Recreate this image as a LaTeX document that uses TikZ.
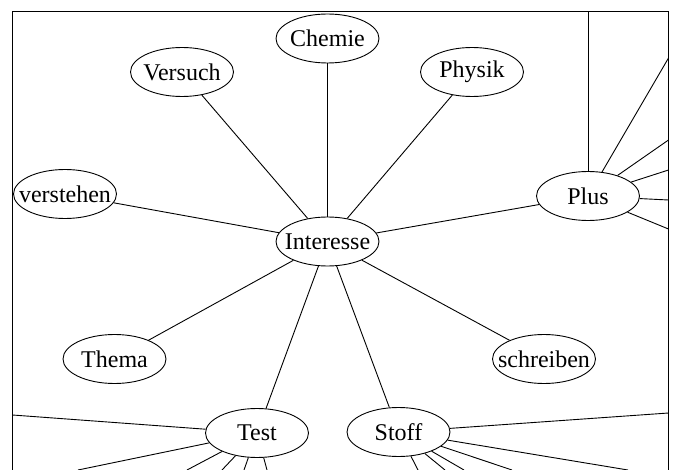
\documentclass[tikz,border=0pt]{standalone}
\usepackage{fontspec}
\setmainfont{Liberation Serif}
\usetikzlibrary{shapes.geometric}
\begin{document}
\begin{tikzpicture}[x=1pt,y=-1pt,
  font=\fontsize{24}{28}\selectfont,
  bubble/.style={draw, ellipse, inner sep=0pt, minimum width=103pt,
                 minimum height=49pt, line width=0.9pt},
  link/.style={line width=0.9pt},
  frame/.style={line width=1pt}]
\useasboundingbox (0,0) rectangle (674,470);

% ellipses: fixed size, word set as a centred label
\node[bubble, label=center:Interesse] (interesse) at (327.5,241.5) {};
\node[bubble, label=center:Chemie]    (chemie)    at (327.5,38.5)  {};
\node[bubble, label=center:Versuch]   (versuch)   at (182,72)      {};
\node[bubble, label=center:Physik]    (physik)    at (472,72)      {};
\node[bubble, label=center:verstehen] (verstehen) at (65,194)      {};
\node[bubble, label=center:Plus]      (plus)      at (588,196)     {};
\node[bubble, label=center:Thema]     (thema)     at (114.5,359)   {};
\node[bubble, label=center:schreiben] (schreiben) at (544,359)     {};
\node[bubble, label=center:Test]      (test)      at (257,433)     {};
\node[bubble, label=center:Stoff]     (stoff)     at (398.5,432)   {};

% loose ends of links leaving the frame
\coordinate (p0) at (588,11.5);
\coordinate (p1) at (668.5,58);
\coordinate (p2) at (668.5,140);
\coordinate (p3) at (668.5,170);
\coordinate (p4) at (668.5,200);
\coordinate (p5) at (668.5,229);
\coordinate (t0) at (12.5,415);
\coordinate (t1) at (78,470);
\coordinate (t2) at (187,470);
\coordinate (t3) at (222,470);
\coordinate (t4) at (244,470);
\coordinate (t5) at (267,470);
\coordinate (s0) at (668.5,413);
\coordinate (s1) at (418,470);
\coordinate (s2) at (445,470);
\coordinate (s3) at (464,470);
\coordinate (s4) at (512,470);
\coordinate (s5) at (628,470);

\begin{scope}
  \clip (12.5,11.5) rectangle (668.5,480);
  \foreach \n in {chemie,versuch,physik,verstehen,plus,thema,schreiben,test,stoff}
    \draw[link] (interesse) -- (\n);
  \foreach \c in {p0,p1,p2,p3,p4,p5}
    \draw[link] (plus) -- (\c);
  \foreach \c in {t0,t1,t2,t3,t4,t5}
    \draw[link] (test) -- (\c);
  \foreach \c in {s0,s1,s2,s3,s4,s5}
    \draw[link] (stoff) -- (\c);
\end{scope}

% frame
\draw[frame] (12.5,480) -- (12.5,11.5) -- (668.5,11.5) -- (668.5,480);
\end{tikzpicture}
\end{document}
